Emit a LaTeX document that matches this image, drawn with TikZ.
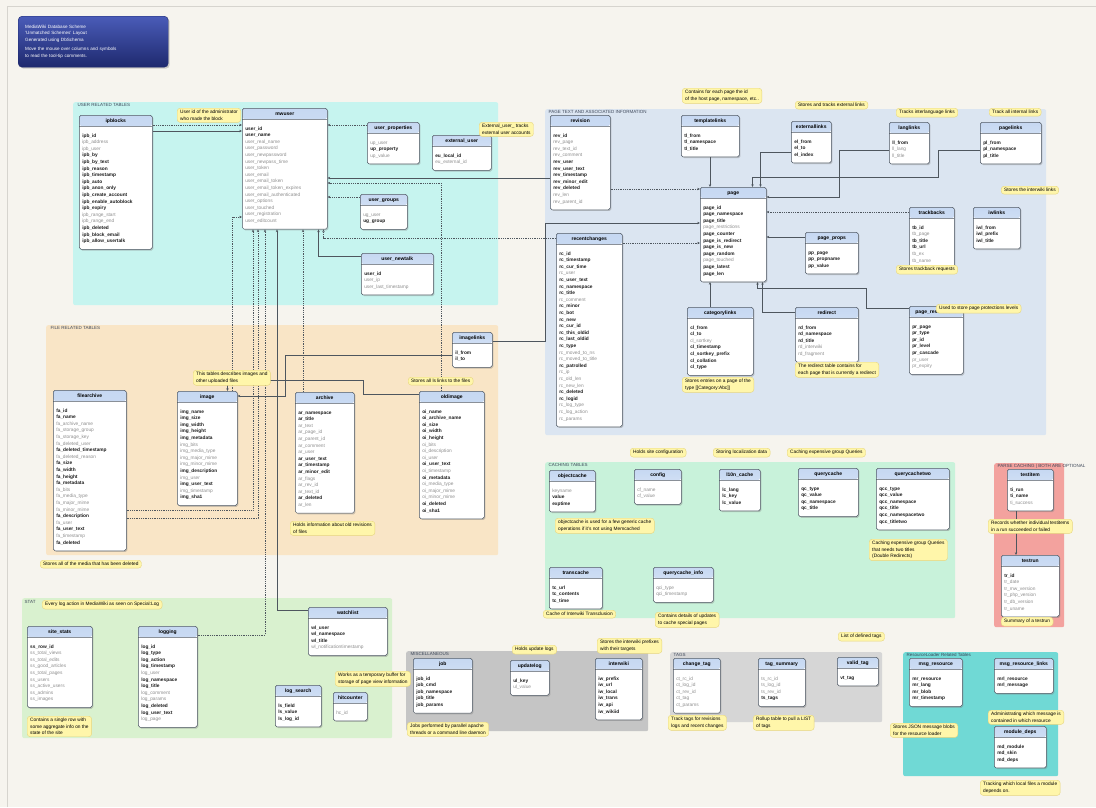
\documentclass[tikz,border=0pt]{standalone}
\usepackage{fontspec}
\setmainfont{Liberation Sans}
\usetikzlibrary{arrows.meta,shapes.multipart,shadows}
\definecolor{PaperFill}{HTML}{F6F4EE}
\definecolor{FrameLine}{HTML}{D6D4CE}
\definecolor{UserFill}{HTML}{C6F4EF}
\definecolor{PageFill}{HTML}{DBE5F1}
\definecolor{FileFill}{HTML}{F9E5C6}
\definecolor{CacheFill}{HTML}{C8F2DA}
\definecolor{ParseFill}{HTML}{F3A29E}
\definecolor{StatFill}{HTML}{D9F1CF}
\definecolor{MiscFill}{HTML}{C5C5C5}
\definecolor{TagFill}{HTML}{D6D6D6}
\definecolor{ResFill}{HTML}{70D9D5}
\definecolor{HeadTop}{HTML}{C6D8F2}
\definecolor{HeadFill}{HTML}{E6EEF9}
\definecolor{TblBord}{HTML}{4C5662}
\definecolor{FldGray}{HTML}{8E8E8E}
\definecolor{FldDark}{HTML}{1C1C1C}
\definecolor{NoteFill}{HTML}{FFF6AA}
\definecolor{NoteBord}{HTML}{E6D57E}
\definecolor{LinkLine}{HTML}{4E565E}
\definecolor{GrpText}{HTML}{3C4658}
\definecolor{TtlTop}{HTML}{4A5CB8}
\definecolor{TtlBot}{HTML}{1E296E}
\newcommand{\fldfont}{\fontsize{4.8}{6.6}\selectfont}
\newcommand{\notefont}{\fontsize{4.8}{6.3}\selectfont}
\newcommand{\gf}[1]{{\mdseries\color{FldGray}#1}}
\newcommand{\dbt}[2]{\centering\fontsize{5}{6}\selectfont\bfseries\rule[-1.5pt]{0pt}{6.5pt}#1\par
  \nodepart{two}\raggedright\bfseries\color{FldDark}\rule{0pt}{8.5pt}#2\rule[-4.5pt]{0pt}{4.5pt}\par}
\tikzset{
  tbl/.style={rectangle split, rectangle split parts=2, fill=white,
              path picture={\shade[top color=HeadTop, bottom color=HeadFill]
                (path picture bounding box.north west) rectangle
                ([yshift=-10.6pt]path picture bounding box.north east);},
              draw=TblBord, line width=0.5pt, rounded corners=1.8pt,
              inner xsep=3pt, inner ysep=2pt, font=\fldfont, anchor=north west,
              drop shadow={shadow xshift=1.2pt, shadow yshift=-1.2pt, opacity=0.4}},
  grp/.style={rectangle, rounded corners=2pt, anchor=north west, inner sep=0pt},
  grplbl/.style={anchor=north west, inner sep=0.5pt, text=GrpText,
                 font=\fontsize{4.5}{5}\selectfont},
  note/.style={rectangle, rounded corners=3pt, fill=NoteFill, draw=NoteBord,
               line width=0.4pt, align=left, font=\notefont, anchor=north west,
               inner xsep=3pt, inner ysep=2.2pt},
  ttlbox/.style={rectangle, rounded corners=4pt, anchor=north west,
                 top color=TtlTop, bottom color=TtlBot, draw=TtlBot, text=white,
                 align=left, text width=136pt, minimum width=150pt, minimum height=51pt,
                 inner xsep=7pt, font=\fontsize{4.6}{6.4}\selectfont,
                 drop shadow={shadow xshift=1.5pt, shadow yshift=-1.5pt, opacity=0.35}},
  fk/.style={draw=LinkLine, line width=0.5pt, -{Stealth[length=2.8pt,width=2.4pt]}},
  fkd/.style={fk, dash pattern=on 0.9pt off 0.9pt},
}

\begin{document}
\catcode`\_=12
\begin{tikzpicture}[x=1pt,y=-1pt]
\useasboundingbox (0,0) rectangle (1096,807);
\fill[PaperFill] (0,0) rectangle (1096,807);
\draw[FrameLine, line width=0.6pt] (7,807) -- (7,6) -- (1096,6);

% ---------------- title ----------------
\node[ttlbox] (title) at (18,16) {MediaWiki Database Scheme\\'Unmatched Schemes' Layout\\Generated using DbSchema\\[3pt]Move the mouse over columns and symbols\\to read the tool-tip comments.};

% ---------------- groups ----------------
\node[grp, fill=UserFill, minimum width=425pt, minimum height=203pt] (gusr) at (73,102) {};
\node[grplbl] (gusr-l) at (77,103) {USER RELATED TABLES};
\node[grp, fill=PageFill, minimum width=501pt, minimum height=326pt] (gpage) at (545,109) {};
\node[grplbl] (gpage-l) at (548,110) {PAGE TEXT AND ASSOCIATED INFORMATION};
\node[grp, fill=FileFill, minimum width=452pt, minimum height=230pt] (gfile) at (46,325) {};
\node[grplbl] (gfile-l) at (50,326) {FILE RELATED TABLES};
\node[grp, fill=CacheFill, minimum width=410pt, minimum height=156pt] (gcache) at (545,462) {};
\node[grplbl] (gcache-l) at (548,463) {CACHING TABLES};
\node[grp, fill=ParseFill, minimum width=70pt, minimum height=164pt] (gparse) at (994,463) {};
\node[grplbl] (gparse-l) at (997,464) {PARSE CACHING | BOTH ARE OPTIONAL};
\node[grp, fill=StatFill, minimum width=370pt, minimum height=140pt] (gstat) at (22,598) {};
\node[grplbl] (gstat-l) at (24,600) {STAT};
\node[grp, fill=MiscFill, minimum width=242pt, minimum height=80pt] (gmisc) at (406,651) {};
\node[grplbl] (gmisc-l) at (410,652) {MISCELLANEOUS};
\node[grp, fill=TagFill, minimum width=212pt, minimum height=70pt] (gtags) at (670,652) {};
\node[grplbl] (gtags-l) at (673,653) {TAGS};
\node[grp, fill=ResFill, minimum width=155pt, minimum height=124pt] (gres) at (903,652) {};
\node[grplbl] (gres-l) at (906,653) {ResourceLoader Related Tables};

% ---------------- user related tables ----------------
\node[tbl, text width=67pt] (ipblocks) at (79,115) {\dbt{ipblocks}{ipb_id\\\gf{ipb_address}\\\gf{ipb_user}\\ipb_by\\ipb_by_text\\ipb_reason\\ipb_timestamp\\ipb_auto\\ipb_anon_only\\ipb_create_account\\ipb_enable_autoblock\\ipb_expiry\\\gf{ipb_range_start}\\\gf{ipb_range_end}\\ipb_deleted\\ipb_block_email\\ipb_allow_usertalk}};
\node[tbl, text width=79pt] (mwuser) at (242,108) {\dbt{mwuser}{user_id\\user_name\\\gf{user_real_name}\\\gf{user_password}\\\gf{user_newpassword}\\\gf{user_newpass_time}\\\gf{user_token}\\\gf{user_email}\\\gf{user_email_token}\\\gf{user_email_token_expires}\\\gf{user_email_authenticated}\\\gf{user_options}\\\gf{user_touched}\\\gf{user_registration}\\\gf{user_editcount}}};
\node[tbl, text width=46pt] (userprops) at (367,122) {\dbt{user_properties}{\gf{up_user}\\up_property\\\gf{up_value}}};
\node[tbl, text width=53pt] (extuser) at (432,135) {\dbt{external_user}{eu_local_id\\\gf{eu_external_id}}};
\node[tbl, text width=41pt] (usergroups) at (360,194) {\dbt{user_groups}{\gf{ug_user}\\ug_group}};
\node[tbl, text width=66pt] (usernewtalk) at (361,253) {\dbt{user_newtalk}{user_id\\\gf{user_ip}\\\gf{user_last_timestamp}}};

% ---------------- page tables ----------------
\node[tbl, text width=54pt] (revision) at (550,115) {\dbt{revision}{rev_id\\\gf{rev_page}\\\gf{rev_text_id}\\\gf{rev_comment}\\rev_user\\rev_user_text\\rev_timestamp\\rev_minor_edit\\rev_deleted\\\gf{rev_len}\\\gf{rev_parent_id}}};
\node[tbl, text width=52pt] (templatelinks) at (681,115) {\dbt{templatelinks}{tl_from\\tl_namespace\\tl_title}};
\node[tbl, text width=34pt] (externallinks) at (791,121) {\dbt{externallinks}{el_from\\el_to\\el_index}};
\node[tbl, text width=34pt] (langlinks) at (889,122) {\dbt{langlinks}{ll_from\\\gf{ll_lang}\\\gf{ll_title}}};
\node[tbl, text width=55pt] (pagelinks) at (980,122) {\dbt{pagelinks}{pl_from\\pl_namespace\\pl_title}};
\node[tbl, text width=60pt] (page) at (700,187) {\dbt{page}{page_id\\page_namespace\\page_title\\\gf{page_restrictions}\\page_counter\\page_is_redirect\\page_is_new\\page_random\\\gf{page_touched}\\page_latest\\page_len}};
\node[tbl, text width=39pt] (trackbacks) at (909,207) {\dbt{trackbacks}{tb_id\\\gf{tb_page}\\tb_title\\tb_url\\\gf{tb_ex}\\\gf{tb_name}}};
\node[tbl, text width=41pt] (iwlinks) at (973,207) {\dbt{iwlinks}{iwl_from\\iwl_prefix\\iwl_title}};
\node[tbl, text width=47pt] (pageprops) at (805,232) {\dbt{page_props}{pp_page\\pp_propname\\pp_value}};
\node[tbl, text width=60pt] (recentchanges) at (556,233) {\dbt{recentchanges}{rc_id\\rc_timestamp\\rc_cur_time\\\gf{rc_user}\\rc_user_text\\rc_namespace\\rc_title\\\gf{rc_comment}\\rc_minor\\rc_bot\\rc_new\\rc_cur_id\\rc_this_oldid\\rc_last_oldid\\rc_type\\\gf{rc_moved_to_ns}\\\gf{rc_moved_to_title}\\rc_patrolled\\\gf{rc_ip}\\\gf{rc_old_len}\\\gf{rc_new_len}\\rc_deleted\\rc_logid\\\gf{rc_log_type}\\\gf{rc_log_action}\\\gf{rc_params}}};
\node[tbl, text width=60pt] (categorylinks) at (687,307) {\dbt{categorylinks}{cl_from\\cl_to\\\gf{cl_sortkey}\\cl_timestamp\\cl_sortkey_prefix\\cl_collation\\cl_type}};
\node[tbl, text width=57pt] (redirect) at (795,307) {\dbt{redirect}{rd_from\\rd_namespace\\rd_title\\\gf{rd_interwiki}\\\gf{rd_fragment}}};
\node[tbl, text width=48pt] (pagerestr) at (909,306) {\dbt{page_restrictions}{pr_page\\pr_type\\pr_id\\pr_level\\pr_cascade\\\gf{pr_user}\\\gf{pr_expiry}}};

% ---------------- file tables ----------------
\node[tbl, text width=67pt] (filearchive) at (53,390) {\dbt{filearchive}{fa_id\\fa_name\\\gf{fa_archive_name}\\\gf{fa_storage_group}\\\gf{fa_storage_key}\\\gf{fa_deleted_user}\\fa_deleted_timestamp\\\gf{fa_deleted_reason}\\fa_size\\fa_width\\fa_height\\fa_metadata\\\gf{fa_bits}\\\gf{fa_media_type}\\\gf{fa_major_mime}\\\gf{fa_minor_mime}\\fa_description\\\gf{fa_user}\\fa_user_text\\\gf{fa_timestamp}\\fa_deleted}};
\node[tbl, text width=54pt] (image) at (177,391) {\dbt{image}{img_name\\img_size\\img_width\\img_height\\img_metadata\\\gf{img_bits}\\\gf{img_media_type}\\\gf{img_major_mime}\\\gf{img_minor_mime}\\img_description\\\gf{img_user}\\img_user_text\\\gf{img_timestamp}\\img_sha1}};
\node[tbl, text width=53pt] (archive) at (295,392) {\dbt{archive}{ar_namespace\\ar_title\\\gf{ar_text}\\\gf{ar_page_id}\\\gf{ar_parent_id}\\\gf{ar_comment}\\\gf{ar_user}\\ar_user_text\\ar_timestamp\\ar_minor_edit\\\gf{ar_flags}\\\gf{ar_rev_id}\\\gf{ar_text_id}\\ar_deleted\\\gf{ar_len}}};
\node[tbl, text width=34pt] (imagelinks) at (452,332) {\dbt{imagelinks}{il_from\\il_to}};
\node[tbl, text width=59pt] (oldimage) at (419,391) {\dbt{oldimage}{oi_name\\oi_archive_name\\oi_size\\oi_width\\oi_height\\\gf{oi_bits}\\\gf{oi_description}\\\gf{oi_user}\\oi_user_text\\\gf{oi_timestamp}\\oi_metadata\\\gf{oi_media_type}\\\gf{oi_major_mime}\\\gf{oi_minor_mime}\\oi_deleted\\oi_sha1}};

% ---------------- caching tables ----------------
\node[tbl, text width=40pt] (objectcache) at (549,470) {\dbt{objectcache}{\gf{keyname}\\value\\exptime}};
\node[tbl, text width=41pt] (config) at (634,469) {\dbt{config}{\gf{cf_name}\\\gf{cf_value}}};
\node[tbl, text width=35pt] (lcache) at (719,469) {\dbt{l10n_cache}{lc_lang\\lc_key\\lc_value}};
\node[tbl, text width=54pt] (querycache) at (798,468) {\dbt{querycache}{qc_type\\qc_value\\qc_namespace\\qc_title}};
\node[tbl, text width=67pt] (querycachetwo) at (876,468) {\dbt{querycachetwo}{qcc_type\\qcc_value\\qcc_namespace\\qcc_title\\qcc_namespacetwo\\qcc_titletwo}};
\node[tbl, text width=47pt] (transcache) at (549,567) {\dbt{transcache}{tc_url\\tc_contents\\tc_time}};
\node[tbl, text width=54pt] (qcinfo) at (653,567) {\dbt{querycache_info}{\gf{qci_type}\\\gf{qci_timestamp}}};

% ---------------- parse caching ----------------
\node[tbl, text width=40pt] (testitem) at (1007,469) {\dbt{testitem}{ti_run\\ti_name\\\gf{ti_success}}};
\node[tbl, text width=52pt] (testrun) at (1001,555) {\dbt{testrun}{tr_id\\\gf{tr_date}\\\gf{tr_mw_version}\\\gf{tr_php_version}\\\gf{tr_db_version}\\\gf{tr_uname}}};

% ---------------- stat ----------------
\node[tbl, text width=59pt] (sitestats) at (27,626) {\dbt{site_stats}{ss_row_id\\\gf{ss_total_views}\\\gf{ss_total_edits}\\\gf{ss_good_articles}\\\gf{ss_total_pages}\\\gf{ss_users}\\\gf{ss_active_users}\\\gf{ss_admins}\\\gf{ss_images}}};
\node[tbl, text width=53pt] (logging) at (138,626) {\dbt{logging}{log_id\\log_type\\log_action\\log_timestamp\\\gf{log_user}\\log_namespace\\log_title\\\gf{log_comment}\\\gf{log_params}\\log_deleted\\log_user_text\\\gf{log_page}}};
\node[tbl, text width=73pt] (watchlist) at (308,607) {\dbt{watchlist}{wl_user\\wl_namespace\\wl_title\\\gf{wl_notificationtimestamp}}};
\node[tbl, text width=40pt] (logsearch) at (275,685) {\dbt{log_search}{ls_field\\ls_value\\ls_log_id}};
\node[tbl, text width=28pt] (hitcounter) at (333,692) {\dbt{hitcounter}{\gf{hc_id}}};

% ---------------- miscellaneous ----------------
\node[tbl, text width=53pt] (job) at (413,658) {\dbt{job}{job_id\\job_cmd\\job_namespace\\job_title\\job_params}};
\node[tbl, text width=33pt] (updatelog) at (510,660) {\dbt{updatelog}{ul_key\\\gf{ul_value}}};
\node[tbl, text width=41pt] (interwiki) at (595,658) {\dbt{interwiki}{iw_prefix\\iw_url\\iw_local\\iw_trans\\iw_api\\iw_wikiid}};

% ---------------- tags ----------------
\node[tbl, text width=41pt] (changetag) at (673,658) {\dbt{change_tag}{\gf{ct_rc_id}\\\gf{ct_log_id}\\\gf{ct_rev_id}\\\gf{ct_tag}\\\gf{ct_params}}};
\node[tbl, text width=41pt] (tagsummary) at (758,658) {\dbt{tag_summary}{\gf{ts_rc_id}\\\gf{ts_log_id}\\\gf{ts_rev_id}\\ts_tags}};
\node[tbl, text width=35pt] (validtag) at (837,657) {\dbt{valid_tag}{vt_tag}};

% ---------------- resource loader ----------------
\node[tbl, text width=47pt] (msgresource) at (909,658) {\dbt{msg_resource}{mr_resource\\mr_lang\\mr_blob\\mr_timestamp}};
\node[tbl, text width=53pt] (msgreslinks) at (994,658) {\dbt{msg_resource_links}{mrl_resource\\mrl_message}};
\node[tbl, text width=46pt] (moduledeps) at (994,726) {\dbt{module_deps}{md_module\\md_skin\\md_deps}};

% ---------------- connectors ----------------
\draw[fkd] ([yshift=-10pt]ipblocks.north east) -- ([yshift=-17pt]mwuser.north west);
\draw[fk] ([yshift=-16pt]ipblocks.north east) -- ([yshift=-23pt]mwuser.north west);
\draw[fkd] ([yshift=-3pt]userprops.north west) -- ([yshift=-17pt]mwuser.north east);
\draw[fkd] ([yshift=-3pt]usergroups.north west) -- ([yshift=-89pt]mwuser.north east);
\draw[fk] ([yshift=-3pt]usernewtalk.north west) -| ([xshift=-9pt]mwuser.south east);
\draw[fk] ([yshift=-63pt]revision.north west) -- ([yshift=-70pt]mwuser.north east);
\draw[fkd] ([xshift=22pt]oldimage.north west) |- ([yshift=-75pt]mwuser.north east);
\draw[fkd] ([yshift=-5pt]recentchanges.north west) -| ([xshift=-4pt]mwuser.south east);
\draw[fkd] ([xshift=55pt]image.north west) |- ([yshift=-109pt]mwuser.north west);
\draw[fkd] ([yshift=-120pt]filearchive.north east) -| ([xshift=11pt]mwuser.south west);
\draw[fkd] ([yshift=-128pt]filearchive.north east) -| ([xshift=16pt]mwuser.south west);
\draw[fkd] ([yshift=-9pt]logging.north east) -| ([xshift=23pt]mwuser.south west);
\draw[fk] ([yshift=-3pt]watchlist.north west) -| ([xshift=35pt]mwuser.south west);
\draw[fkd] ([xshift=8pt]archive.north west) -- ([xshift=61pt]mwuser.south west);
\draw[fk] ([yshift=-23pt]imagelinks.north west) -- ++(-167,0) |- ([yshift=-5pt]image.north east);
\draw[fk] ([yshift=-3pt]oldimage.north west) -| ([xshift=-56pt,yshift=11pt]oldimage.north west) -| ([xshift=-10pt]image.north east);
\draw[fk] ([yshift=-9pt]imagelinks.north east) -- ++(53,0) |- ([yshift=-36pt]page.north west);
\draw[fkd] ([yshift=-74pt]revision.north east) -- ([yshift=-2pt]page.north west);
\draw[fkd] ([yshift=-10pt]recentchanges.north east) -- ([yshift=-56pt]page.north west);
\draw[fk] ([xshift=29pt]templatelinks.south west) -- ([xshift=10pt]page.north west);
\draw[fk] ([xshift=23pt]categorylinks.north west) -- ([xshift=10pt]page.south west);
\draw[fk] ([yshift=-31pt]externallinks.north west) -| ([xshift=-6pt]page.north east);
\draw[fk] ([yshift=-28pt]langlinks.north west) -- ++(-50,0) |- ([yshift=-10pt]page.north east);
\draw[fk] ([yshift=-28pt]pagelinks.north west) -- ++(-42,0) -- ++(0,27) -| ([xshift=-14pt]page.north east);
\draw[fkd] ([yshift=-5pt]trackbacks.north west) -- ([yshift=-25pt]page.north east);
\draw[fk] ([yshift=-5pt]pageprops.north west) -- ([yshift=-50pt]page.north east);
\draw[fk] ([yshift=-2pt]pagerestr.north west) -- ++(-43,0) -- ++(0,-20) -| ([xshift=-9pt]page.south east);
\draw[fk] ([yshift=-5pt]redirect.north west) -| ([xshift=-4pt]page.south east);
\draw[fk] ([xshift=9pt]testitem.south west) -- ([xshift=15pt]testrun.north west);

% ---------------- tool-tip notes ----------------
\node[note] (n-ipb) at (177,108) {User id of the administrator\\who made the block};
\node[note] (n-ext) at (479,122) {External_user_ tracks\\external user accounts};
\node[note] (n-tl) at (682,88) {Contains for each page the id\\of the host page, namespace, etc..};
\node[note] (n-el) at (795,101) {Stores and tracks external links};
\node[note] (n-ll) at (896,108) {Tracks interlanguage links};
\node[note] (n-pl) at (989,108) {Track all internal links};
\node[note] (n-iwl) at (1001,186) {Stores the interwiki links};
\node[note] (n-tb) at (896,265) {Stores trackback requests};
\node[note] (n-pr) at (936,304) {Used to store page protections levels};
\node[note] (n-cl) at (682,377) {Stores entries on a page of the\\type [[Category:Abc]]};
\node[note] (n-rd) at (795,362) {The redirect table contains for\\each page that is currently a redirect};
\node[note] (n-img) at (193,370) {This tables describes images and\\other uploaded files};
\node[note] (n-il) at (408,377) {Stores all ls links to the files};
\node[note] (n-oi) at (290,521) {Holds information about old revisions\\of files};
\node[note] (n-fa) at (40,560) {Stores all of the media that has been deleted};
\node[note] (n-cf) at (630,448) {Holds site configuration};
\node[note] (n-lc) at (713,448) {Storing localization data};
\node[note] (n-qc) at (787,448) {Caching expensive group Queries};
\node[note] (n-oc) at (555,518) {objectcache is used for a few generic cache\\operations if it's not using Memcached};
\node[note] (n-qcc) at (869,539) {Caching expensive group Queries\\that needs two titles\\(Double Redirects)};
\node[note] (n-ti) at (988,519) {Records whether individual testitems\\in a run succeeded or failed};
\node[note] (n-tr) at (1001,617) {Summary of a testrun};
\node[note] (n-tc) at (543,610) {Cache of Interwiki Transclusion};
\node[note] (n-qci) at (655,612) {Contains details of updates\\to cache special pages};
\node[note] (n-log) at (42,600) {Every log action in MediaWiki as seen on Special:Log};
\node[note] (n-ss) at (27,716) {Contains a single row with\\some aggregate info on the\\state of the site};
\node[note] (n-hc) at (335,671) {Works as a temporary buffer for\\storage of page view information};
\node[note] (n-job) at (407,722) {Jobs performed by parallel apache\\threads or a command line daemon};
\node[note] (n-ul) at (512,645) {Holds update logs};
\node[note] (n-iw) at (597,638) {Stores the interwiki prefixes\\with their targets};
\node[note] (n-ct) at (668,715) {Track tags for revisions\\logs and recent changes};
\node[note] (n-ts) at (753,715) {Rollup table to pull a LIST\\of tags};
\node[note] (n-vt) at (838,632) {List of defined tags};
\node[note] (n-mr) at (890,723) {Stores JSON message blobs\\for the resource loader};
\node[note] (n-mrl) at (988,710) {Administrating which message is\\contained in which resource};
\node[note] (n-md) at (980,780) {Tracking which local files a module\\depends on.};
\end{tikzpicture}
\end{document}
